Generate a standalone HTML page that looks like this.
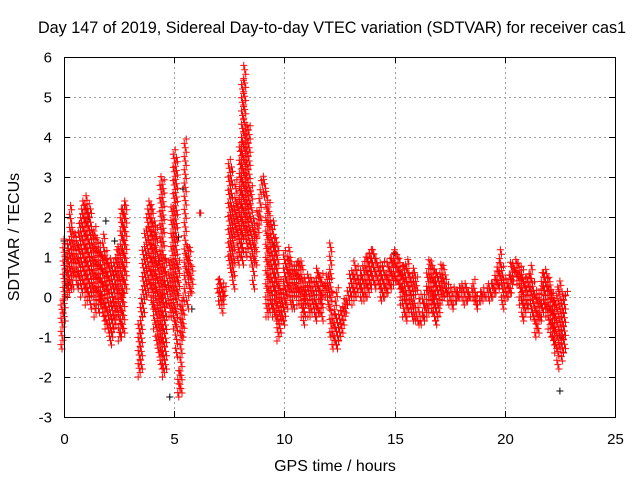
<!DOCTYPE html>
<html><head><meta charset="utf-8"><style>body{margin:0;background:#fff}svg{display:block;font-family:"Liberation Sans",sans-serif}</style></head>
<body>
<svg id="c" width="640" height="480"></svg>
<script>
const times=[0.0,0.1,0.2,0.3,0.4,0.5,0.6,0.7,0.8,0.9,1.0,1.1,1.2,1.3,1.4,1.5,1.6,1.7,1.8,1.9,2.0,2.1,2.2,2.3,2.4,2.5,2.6,2.7,2.8,3.5,3.6,3.7,3.8,3.9,4.0,4.1,4.2,4.3,4.4,4.5,4.6,4.7,4.8,4.9,5.0,5.1,5.2,5.3,5.4,5.5,5.6,5.7,5.8,6.2,7.0,7.1,7.2,7.3,7.5,7.6,7.7,7.8,7.9,8.0,8.1,8.2,8.3,8.4,8.5,8.6,8.7,8.8,8.9,9.0,9.1,9.2,9.3,9.4,9.5,9.6,9.7,9.8,9.9,10.0,10.1,10.2,10.3,10.4,10.5,10.6,10.7,10.8,10.9,11.0,11.1,11.2,11.3,11.4,11.5,11.6,11.7,11.8,11.9,12.0,12.1,12.2,12.3,12.4,12.5,12.6,12.7,12.8,12.9,13.0,13.1,13.2,13.3,13.4,13.5,13.6,13.7,13.8,13.9,14.0,14.1,14.2,14.3,14.4,14.5,14.6,14.7,14.8,14.9,15.0,15.1,15.2,15.3,15.4,15.5,15.6,15.7,15.8,15.9,16.0,16.1,16.2,16.3,16.4,16.5,16.6,16.7,16.8,16.9,17.0,17.1,17.2,17.3,17.4,17.5,17.6,17.7,17.8,17.9,18.0,18.1,18.2,18.3,18.4,18.5,18.6,18.7,18.8,18.9,19.0,19.1,19.2,19.3,19.4,19.5,19.6,19.7,19.8,19.9,20.0,20.1,20.2,20.3,20.4,20.5,20.6,20.7,20.8,20.9,21.0,21.1,21.2,21.3,21.4,21.5,21.6,21.7,21.8,21.9,22.0,22.1,22.2,22.3,22.4,22.5,22.6,22.7,22.8];
const lows=[-1.3,-0.6,0,0.2,0.2,0.5,0.2,0.3,0,0.2,0,-0.2,0,-0.3,0,-0.5,-0.2,-0.4,-0.3,-0.6,-0.8,-0.9,-1.2,-1.0,-0.8,-0.5,-1.1,-1.0,-0.9,-2.0,-1.8,-0.5,0,0.2,0,-0.3,-0.8,-1.2,-1.5,-1.8,-2.0,-1.8,-0.2,-0.5,-0.5,-0.8,-1.5,-2.5,-2.4,-1.0,0.5,-0.3,0.1,2.1,0.1,-0.1,-0.2,-0.4,0.8,0.5,0.2,1.5,0.8,1,0.8,1.5,1.0,1.2,0.8,0.2,0.8,1.5,1.8,2.8,2.5,0,-0.5,-0.5,-0.3,-0.5,-0.6,-1.1,-0.9,-0.6,-0.7,-0.3,0,-0.3,-0.3,0,-0.2,-0.2,-0.5,-0.7,-0.2,-0.5,-0.5,-0.3,-0.6,-0.5,-0.4,-0.6,0,0,-0.3,-1.0,-1.3,-1.2,-1.3,-1.1,-0.9,-0.7,-0.4,-0.2,0,-0.2,0,0.2,0,-0.1,-0.1,0,0.2,0.3,0.2,0.3,0.2,0,-0.1,0,0.1,0.2,0.3,0.3,0.4,0.2,0,-0.2,-0.5,-0.6,-0.5,-0.3,-0.6,-0.6,-0.6,-0.7,-0.7,-0.6,-0.5,-0.5,-0.2,-0.4,-0.6,-0.7,-0.5,-0.2,0,0.1,-0.1,-0.2,-0.3,-0.2,-0.1,0,0,-0.1,-0.2,-0.1,0,0,-0.1,-0.3,-0.2,-0.1,-0.1,0,0,-0.1,0,0.1,0.2,0.3,0,-0.3,-0.1,0,0.1,0.4,0.5,0.3,0,-0.2,-0.6,-0.5,-0.3,-0.2,-0.5,-0.6,-1.0,-0.9,-0.6,-0.5,-0.3,-0.5,-0.8,-1.0,-1.2,-1.4,-1.8,-1.3,-1.6,-1.4];
const highs=[1.5,1.2,1.5,2.3,1.8,1.6,1.5,1.9,2.2,2.5,2.6,2.4,2.3,1.7,1.8,1.5,1.4,1.2,1.6,1.2,1.0,1.0,0.8,1.0,1.2,1.3,2.2,2.4,2.5,-0.6,1.2,1.8,2.2,2.4,2.4,2.0,1.8,1.0,3.1,3.0,1.0,0.5,1.0,2.3,3.7,3.5,1.0,-1.8,0,4.0,1.3,1.3,0.8,2.1,0.5,0.5,0.4,0.3,3.5,3.3,2.3,3.0,2.5,3.9,5.5,5.8,4.3,4.3,2.8,2.0,1.7,2.2,2.7,3.1,3.0,2.7,2.4,2.0,1.9,1.5,1.3,0.5,0.2,1.2,1.0,1.3,1.0,0.8,0.8,0.9,1.0,1.0,0.5,0.3,0.6,0.5,0.4,0.5,0.8,0.7,0.6,0.3,0.6,0.6,1.4,0.2,-0.4,0.3,-0.5,-0.3,-0.2,0,0.2,0.6,0.7,0.9,0.8,0.6,0.7,0.9,1.0,1.1,1.2,1.2,1.1,1.0,0.9,0.8,0.9,0.6,0.9,1.0,1.1,1.2,1.1,1.0,0.8,0.8,0.9,1.0,0.6,0.6,0.8,0.5,-0.3,0.1,-0.4,0.2,0.8,1.0,0.9,0.8,0.7,0.6,0.9,0.8,0.6,0.4,0.3,0.2,0.3,0.2,0.3,0.3,0.4,0.4,0.3,0.2,0.3,0.5,0.2,0.1,0.2,0.3,0.2,0.3,0.4,0.4,0.5,0.7,0.9,1.2,0.8,0.5,0.4,0.6,0.9,0.9,1.0,0.9,0.8,0.7,0.5,0.5,0.6,0.8,0.4,0.2,0,0.3,0.7,0.6,0.7,0.5,0.3,0.2,0,0.3,0.5,0.2,0.1,0.2];
const blackT=[0.0,0.2,1.1,1.9,2.3,4.3,4.8,5.2,5.4,5.8,6.2,9.5,15.0,22.5,22.6];
const blackV=[1.4,0.3,2.0,1.9,1.4,0.9,-2.5,1.5,2.7,-0.3,2.1,1.3,1.1,-2.35,-1.0];
const xTicks=[0,5,10,15,20,25];
const yTicks=[-3,-2,-1,0,1,2,3,4,5,6];

const NS="http://www.w3.org/2000/svg",svg=document.getElementById('c');
const X0=64,X1=615,Y0=417,Y1=57;
const sx=t=>X0+(t-0)/25*(X1-X0), sy=v=>Y0-(v+3)/9*(Y0-Y1);
function mk(tag,a){const e=document.createElementNS(NS,tag);for(const k in a)e.setAttribute(k,a[k]);svg.appendChild(e);return e;}
const grid=mk('g',{stroke:'#a0a0a0','stroke-dasharray':'2,3','stroke-width':1});


xTicks.forEach(t=>{const x=Math.round(sx(t))+0.5;if(t>0&&t<25){const l=document.createElementNS(NS,'line');l.setAttribute('x1',x);l.setAttribute('x2',x);l.setAttribute('y1',Y1);l.setAttribute('y2',Y0);grid.appendChild(l);}
 const tx=mk('text',{x:x,y:444,'text-anchor':'middle','font-size':15});tx.textContent=t;
 
 
 mk('line',{x1:x,x2:x,y1:Y0,y2:Y0-6,stroke:'#000'});mk('line',{x1:x,x2:x,y1:Y1,y2:Y1+6,stroke:'#000'});});
yTicks.forEach(v=>{const y=Math.round(sy(v))+0.5;if(v>-3&&v<6){const l=document.createElementNS(NS,'line');l.setAttribute('x1',X0);l.setAttribute('x2',X1);l.setAttribute('y1',y);l.setAttribute('y2',y);grid.appendChild(l);}
 const tx=mk('text',{x:52,y:y+5,'text-anchor':'end','font-size':15});tx.textContent=v;
 
 
 mk('line',{x1:X0,x2:X0+6,y1:y,y2:y,stroke:'#000'});mk('line',{x1:X1,x2:X1-6,y1:y,y2:y,stroke:'#000'});});
function plus(x,y){return `M${x-3.5},${y}h7M${x},${y-3.5}v7`;}
let bd='';blackT.forEach((t,i)=>{bd+=plus(sx(t),sy(blackV[i]));});
const bp=mk('path',{d:bd,stroke:'#000','stroke-width':1,fill:'none'});


times.forEach((t,i)=>{let d='';const x=sx(t);
 for(let v=lows[i];v<=highs[i]+1e-6;v+=0.11){d+=plus(x+((Math.round(v*100))%3-1),sy(v));}
 if(highs[i]-lows[i]<0.11)d+=plus(x,sy(highs[i]));
 const p=mk('path',{d:d,stroke:'#ff0000','stroke-width':1,fill:'none'});
 
 });
const fr=mk('rect',{x:X0+0.5,y:Y1+0.5,width:X1-X0,height:Y0-Y1,fill:'none',stroke:'#000'});


const ti=mk('text',{x:332,y:33,'text-anchor':'middle','font-size':16.2});ti.textContent='Day 147 of 2019, Sidereal Day-to-day VTEC variation (SDTVAR) for receiver cas1';


const xt=mk('text',{x:335,y:471,'text-anchor':'middle','font-size':16});xt.textContent='GPS time / hours';


const yt=mk('text',{x:0,y:0,'text-anchor':'middle','font-size':16,transform:'translate(19,237) rotate(-90)'});yt.textContent='SDTVAR / TECUs';


</script>
</body></html>
